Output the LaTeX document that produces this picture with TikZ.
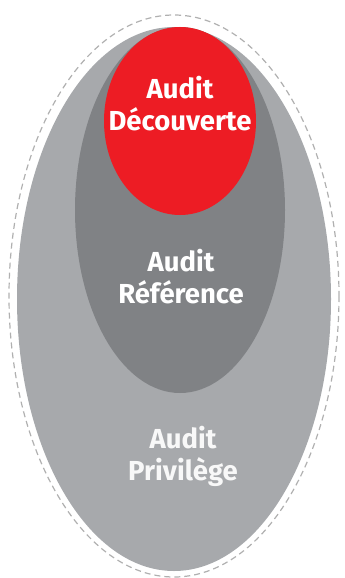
\documentclass[tikz,border=0pt]{standalone}
\usepackage{fontspec}
\setmainfont{Fira Sans}
\begin{document}
\begin{tikzpicture}[x=1pt,y=-1pt,
  lbl/.style={align=center,font=\fontsize{27.5}{32}\selectfont\bfseries,text=white,inner sep=0pt},
  blob/.style={ellipse,draw=none,inner sep=0pt}]
\useasboundingbox (0,0) rectangle (345,578);
\definecolor{redA}{HTML}{ED1C24}
\definecolor{greyD}{HTML}{808285}
\definecolor{greyL}{HTML}{A7A9AC}
\definecolor{dashC}{HTML}{B0B0B0}
\draw[dashC,line width=1.2pt,dash pattern=on 6pt off 4pt] (174,296) ellipse [x radius=165, y radius=281];
\fill[greyL] (174,299) ellipse [x radius=157, y radius=272];
\fill[greyD] (180,210) ellipse [x radius=105, y radius=183];
\fill[redA] (180,121) ellipse [x radius=76, y radius=94];
\node[lbl] (d) at (180,104) {Audit\\Découverte};
\node[lbl] (r) at (181,277) {Audit\\Référence};
\node[lbl,text=white!92!greyL] (p) at (183,456) {Audit\\Privilège};
\end{tikzpicture}
\end{document}
